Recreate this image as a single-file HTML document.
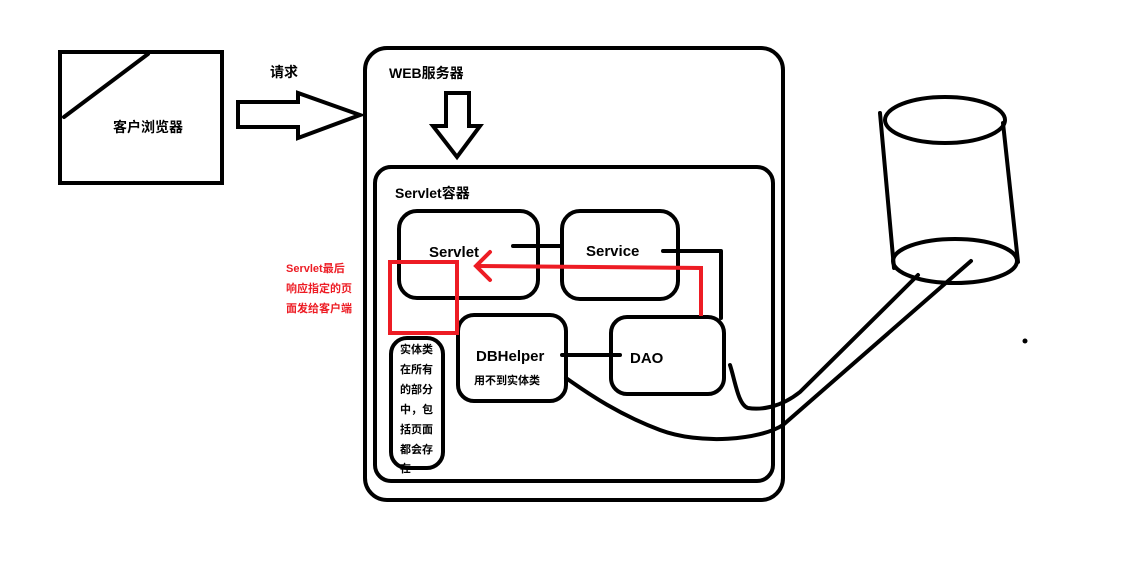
<!DOCTYPE html>
<html><head><meta charset="utf-8"><style>
html,body{margin:0;padding:0;background:#fff;}
svg{display:block;}
text{font-family:"Liberation Sans","Noto Sans CJK SC",sans-serif;font-weight:bold;}
</style></head><body>
<svg width="1126" height="587" viewBox="0 0 1126 587" xmlns="http://www.w3.org/2000/svg">
<g fill="none" stroke="#000" stroke-width="4" stroke-linejoin="round" stroke-linecap="round">
<rect x="60" y="52" width="162" height="131" stroke-linejoin="miter"/>
<line x1="64" y1="117" x2="148" y2="54"/>
<path d="M238,102 L298,102 L298,93 L360,115 L298,138 L298,127 L238,127 Z" stroke-linejoin="miter"/>
<rect x="365" y="48" width="418" height="452" rx="22"/>
<path d="M446,93 L469,93 L469,126 L480,126 L457,157 L433,126 L446,126 Z" stroke-linejoin="miter"/>
<rect x="375" y="167" width="398" height="314" rx="16"/>
<rect x="399" y="211" width="139" height="87" rx="18"/>
<rect x="562" y="211" width="116" height="88" rx="18"/>
<line x1="513" y1="246" x2="562" y2="246"/>
<path d="M663,251 L721,251 L721,318"/>
<rect x="611" y="317" width="113" height="77" rx="16"/>
<rect x="458" y="315" width="108" height="86" rx="16"/>
<line x1="562" y1="355" x2="620" y2="355"/>
<rect x="391" y="338" width="52" height="130" rx="16"/>
<ellipse cx="945" cy="120" rx="60" ry="23"/>
<ellipse cx="955" cy="261" rx="62" ry="22"/>
<line x1="880" y1="113" x2="894" y2="268"/>
<line x1="1003" y1="123" x2="1018" y2="262"/>
<path d="M918,275 L800,392 C780,408 760,410 748,408 C738,405 735,380 730,365"/>
<path d="M971,261 L783,425 C760,440 700,445 660,430 C620,415 590,395 566,378"/>
</g>
<circle cx="1025" cy="341" r="2.5" fill="#000"/>
<g fill="none" stroke="#ed1c24" stroke-width="4">
<rect x="390" y="262" width="67" height="71"/>
<path d="M701,316 L701,268 L478,266"/>
<path d="M490,252 L476,266 L490,280" stroke-linecap="round"/>
</g>
<text x="113" y="132" font-size="14">客户浏览器</text>
<text x="270" y="77" font-size="14">请求</text>
<text x="389" y="78" font-size="14">WEB服务器</text>
<text x="395" y="198" font-size="14">Servlet容器</text>
<text x="429" y="257" font-size="15">Servlet</text>
<text x="586" y="256" font-size="15">Service</text>
<text x="476" y="361" font-size="15">DBHelper</text>
<text x="474" y="384" font-size="11">用不到实体类</text>
<text x="630" y="363" font-size="15">DAO</text>
<g font-size="11" fill="#000">
<text x="400" y="353">实体类</text>
<text x="400" y="373">在所有</text>
<text x="400" y="393">的部分</text>
<text x="400" y="413">中，包</text>
<text x="400" y="433">括页面</text>
<text x="400" y="453">都会存</text>
<text x="400" y="472">在</text>
</g>
<g font-size="11" fill="#ed1c24">
<text x="286" y="272">Servlet最后</text>
<text x="286" y="292">响应指定的页</text>
<text x="286" y="312">面发给客户端</text>
</g>
</svg>
</body></html>
